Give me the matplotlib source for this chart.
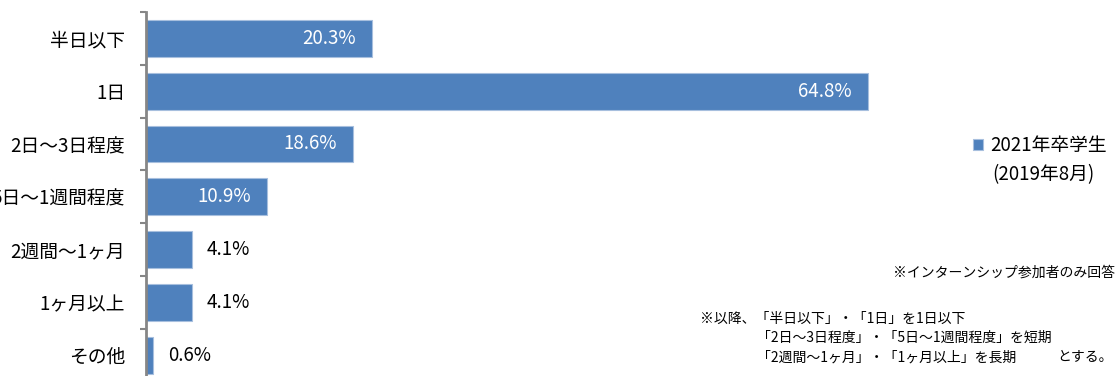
import numpy as np
import matplotlib
matplotlib.use('Agg')
import matplotlib.pyplot as plt

plt.rcParams['font.family'] = ['Noto Sans CJK JP', 'DejaVu Sans']

categories = ['半日以下', '1日', '2日〜3日程度', '5日〜1週間程度', '2週間〜1ヶ月', '1ヶ月以上', 'その他']
values = [20.3, 64.8, 18.6, 10.9, 4.1, 4.1, 0.6]
series_label = '2021年卒学生'
series_sub = '(2019年8月)'

bar_color = '#4F81BD'
axis_color = '#868686'
fs = 13.5

fig = plt.figure(figsize=(11.16, 3.76), dpi=100)
ax = fig.add_axes([0.1308, -0.0149, 0.799, 0.983])

y = np.arange(len(categories))
ax.barh(y, values, height=0.7, color=bar_color, edgecolor='#A7BFDE', linewidth=0.8, label=series_label)

ax.set_xlim(0, 80)
ax.set_ylim(len(categories) - 0.5, -0.5)

for i, v in enumerate(values):
    if v > 10:
        ax.annotate(f'{v:.1f}%', (v, i), xytext=(-12, 0), textcoords='offset points',
                    ha='right', va='center', color='white', fontsize=fs)
    else:
        ax.annotate(f'{v:.1f}%', (v, i), xytext=(11, 0), textcoords='offset points',
                    ha='left', va='center', color='black', fontsize=fs)

ax.set_yticks(y)
ax.set_yticklabels(categories, fontsize=fs)
ax.set_yticks(np.arange(len(categories) + 1) - 0.5, minor=True)
ax.tick_params(axis='y', which='major', length=0, pad=15)
ax.tick_params(axis='y', which='minor', length=4, width=1.5, color=axis_color, direction='out')
ax.set_xticks([])

for s in ['top', 'right', 'bottom']:
    ax.spines[s].set_visible(False)
ax.spines['left'].set_color(axis_color)
ax.spines['left'].set_linewidth(2)

leg = fig.legend(loc='center left', bbox_to_anchor=(0.872, 0.612), frameon=False,
                 handlelength=0.55, handleheight=0.55, handletextpad=0.35, borderpad=0,
                 borderaxespad=0, fontsize=fs)
fig.text(0.8895, 0.535, series_sub, fontsize=fs, ha='left', va='center')

fig.text(0.999, 0.274, '※インターンシップ参加者のみ回答', fontsize=10, ha='right', va='center')
fig.text(0.627, 0.152, '※以降、「半日以下」・「1日」を1日以下', fontsize=10, ha='left', va='center')
fig.text(0.678, 0.101, '「2日〜3日程度」・「5日〜1週間程度」を短期', fontsize=10, ha='left', va='center')
fig.text(0.678, 0.050, '「2週間〜1ヶ月」・「1ヶ月以上」を長期', fontsize=10, ha='left', va='center')
fig.text(0.9975, 0.050, 'とする。', fontsize=10, ha='right', va='center')

fig.savefig('out.png', dpi=100)
